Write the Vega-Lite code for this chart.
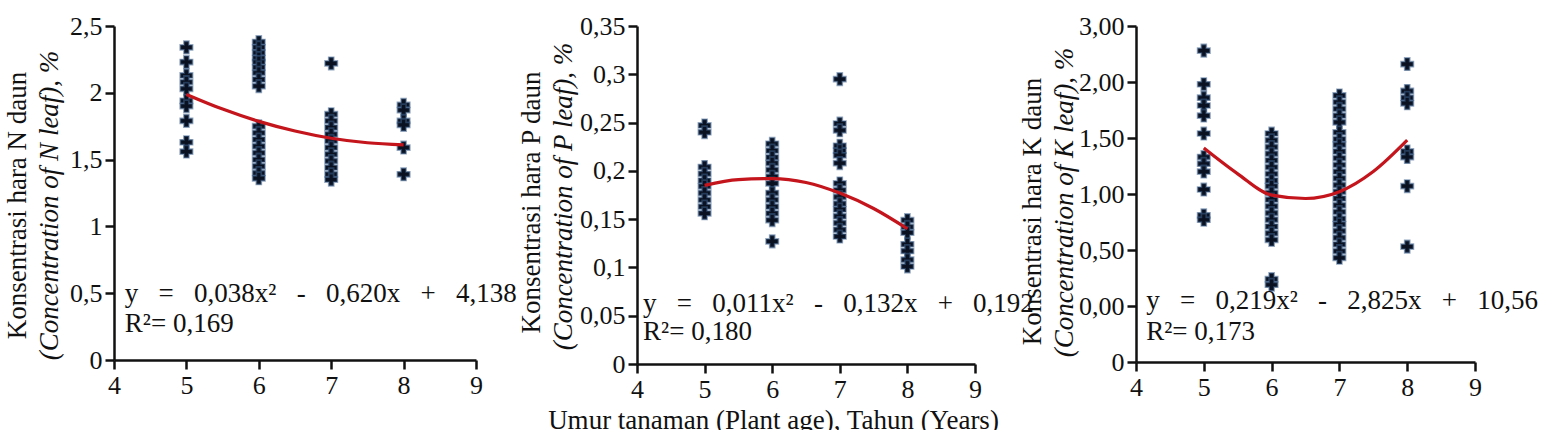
{
  "$schema": "https://vega.github.io/schema/vega-lite/v6.json",
  "padding": {"left": 3, "top": 13, "right": 0, "bottom": 0},
  "background": "white",
  "bounds": "flush",
  "spacing": 161,
  "datasets": {
    "N": [
      {"age":5,"v":2.34},{"age":5,"v":2.23},{"age":5,"v":2.13},{"age":5,"v":2.08},{"age":5,"v":2.03},{"age":5,"v":1.94},{"age":5,"v":1.90},{"age":5,"v":1.79},{"age":5,"v":1.63},{"age":5,"v":1.56},
      {"age":6,"v":2.38},{"age":6,"v":2.34},{"age":6,"v":2.30},{"age":6,"v":2.26},{"age":6,"v":2.23},{"age":6,"v":2.19},{"age":6,"v":2.15},{"age":6,"v":2.10},{"age":6,"v":2.05},{"age":6,"v":1.75},{"age":6,"v":1.70},{"age":6,"v":1.65},{"age":6,"v":1.60},{"age":6,"v":1.55},{"age":6,"v":1.50},{"age":6,"v":1.45},{"age":6,"v":1.40},{"age":6,"v":1.36},
      {"age":7,"v":2.22},{"age":7,"v":1.84},{"age":7,"v":1.79},{"age":7,"v":1.74},{"age":7,"v":1.69},{"age":7,"v":1.64},{"age":7,"v":1.59},{"age":7,"v":1.54},{"age":7,"v":1.49},{"age":7,"v":1.44},{"age":7,"v":1.39},{"age":7,"v":1.35},
      {"age":8,"v":1.91},{"age":8,"v":1.87},{"age":8,"v":1.79},{"age":8,"v":1.76},{"age":8,"v":1.59},{"age":8,"v":1.39}
    ],
    "Nfit": [
      {"age":5,"fit":1.988},{"age":5.5,"fit":1.878},{"age":6,"fit":1.786},{"age":6.5,"fit":1.714},{"age":7,"fit":1.660},{"age":7.5,"fit":1.626},{"age":8,"fit":1.610}
    ],
    "P": [
      {"age":5,"v":0.247},{"age":5,"v":0.240},{"age":5,"v":0.204},{"age":5,"v":0.197},{"age":5,"v":0.190},{"age":5,"v":0.184},{"age":5,"v":0.177},{"age":5,"v":0.170},{"age":5,"v":0.163},{"age":5,"v":0.156},
      {"age":6,"v":0.228},{"age":6,"v":0.221},{"age":6,"v":0.214},{"age":6,"v":0.208},{"age":6,"v":0.201},{"age":6,"v":0.194},{"age":6,"v":0.187},{"age":6,"v":0.177},{"age":6,"v":0.170},{"age":6,"v":0.163},{"age":6,"v":0.156},{"age":6,"v":0.149},{"age":6,"v":0.127},
      {"age":7,"v":0.295},{"age":7,"v":0.249},{"age":7,"v":0.242},{"age":7,"v":0.226},{"age":7,"v":0.221},{"age":7,"v":0.216},{"age":7,"v":0.208},{"age":7,"v":0.187},{"age":7,"v":0.180},{"age":7,"v":0.173},{"age":7,"v":0.166},{"age":7,"v":0.160},{"age":7,"v":0.153},{"age":7,"v":0.146},{"age":7,"v":0.139},{"age":7,"v":0.132},
      {"age":8,"v":0.149},{"age":8,"v":0.142},{"age":8,"v":0.136},{"age":8,"v":0.124},{"age":8,"v":0.117},{"age":8,"v":0.108},{"age":8,"v":0.101}
    ],
    "Pfit": [
      {"age":5,"fit":0.185},{"age":5.5,"fit":0.191},{"age":6,"fit":0.192},{"age":6.5,"fit":0.188},{"age":7,"fit":0.177},{"age":7.5,"fit":0.161},{"age":8,"fit":0.140}
    ],
    "K": [
      {"age":5,"v":2.28},{"age":5,"v":1.98},{"age":5,"v":1.86},{"age":5,"v":1.79},{"age":5,"v":1.70},{"age":5,"v":1.54},{"age":5,"v":1.33},{"age":5,"v":1.27},{"age":5,"v":1.20},{"age":5,"v":1.04},{"age":5,"v":0.81},{"age":5,"v":0.77},
      {"age":6,"v":1.54},{"age":6,"v":1.48},{"age":6,"v":1.42},{"age":6,"v":1.36},{"age":6,"v":1.30},{"age":6,"v":1.24},{"age":6,"v":1.18},{"age":6,"v":1.12},{"age":6,"v":1.07},{"age":6,"v":1.01},{"age":6,"v":0.95},{"age":6,"v":0.89},{"age":6,"v":0.83},{"age":6,"v":0.77},{"age":6,"v":0.71},{"age":6,"v":0.65},{"age":6,"v":0.59},{"age":6,"v":0.24},{"age":6,"v":0.19},
      {"age":7,"v":1.88},{"age":7,"v":1.82},{"age":7,"v":1.76},{"age":7,"v":1.70},{"age":7,"v":1.64},{"age":7,"v":1.55},{"age":7,"v":1.49},{"age":7,"v":1.44},{"age":7,"v":1.38},{"age":7,"v":1.32},{"age":7,"v":1.26},{"age":7,"v":1.20},{"age":7,"v":1.14},{"age":7,"v":1.08},{"age":7,"v":1.02},{"age":7,"v":0.96},{"age":7,"v":0.90},{"age":7,"v":0.84},{"age":7,"v":0.78},{"age":7,"v":0.73},{"age":7,"v":0.67},{"age":7,"v":0.61},{"age":7,"v":0.55},{"age":7,"v":0.49},{"age":7,"v":0.43},
      {"age":8,"v":2.16},{"age":8,"v":1.92},{"age":8,"v":1.86},{"age":8,"v":1.81},{"age":8,"v":1.38},{"age":8,"v":1.33},{"age":8,"v":1.07},{"age":8,"v":0.53}
    ],
    "Kfit": [
      {"age":5,"fit":1.41},{"age":5.5,"fit":1.18},{"age":6,"fit":0.99},{"age":6.5,"fit":0.96},{"age":7,"fit":1.02},{"age":7.5,"fit":1.20},{"age":8,"fit":1.48}
    ]
  },
  "hconcat": [
    {
      "width": 362, "height": 334,
      "resolve": {"axis": {"y": "independent"}},
      "layer": [
        {
          "data": {"name": "N"},
          "mark": {"type": "point", "shape": "cross", "filled": true, "size": 150, "color": "#0a1120", "stroke": "#3d5f8a", "strokeWidth": 1.8, "strokeOpacity": 0.55, "opacity": 1},
          "encoding": {
            "x": {"field": "age", "type": "quantitative", "scale": {"domain": [4, 9], "nice": false, "zero": false}, "axis": {"values": [4,5,6,7,8,9], "title": null}},
            "y": {"field": "v", "type": "quantitative", "scale": {"domain": [0, 2.5], "nice": false}, "axis": {"values": [0,0.5,1,1.5,2,2.5], "labelExpr": "replace(toString(datum.value), '.', ',')", "title": "(Concentration of N leaf), %", "titleFontStyle": "italic", "titleX": -65, "titleY": 179, "titleAngle": -90, "titleBaseline": "middle", "titleAlign": "center"}}
          }
        },
        {
          "data": {"name": "Nfit"},
          "mark": {"type": "line", "color": "#c4141c", "strokeWidth": 3.2, "interpolate": "monotone"},
          "encoding": {
            "x": {"field": "age", "type": "quantitative", "axis": {"values": [4,5,6,7,8,9], "title": null}},
            "y": {"field": "fit", "type": "quantitative", "axis": {"orient": "left", "labels": false, "ticks": false, "domain": false, "title": "Konsentrasi hara N daun", "titleX": -97, "titleY": 179, "titleAngle": -90, "titleBaseline": "middle", "titleAlign": "center"}}
          }
        },
        {
          "data": {"values": [{}]},
          "mark": {"type": "text", "align": "left", "baseline": "middle", "fontSize": 27, "font": "Liberation Serif", "color": "#111"},
          "encoding": {
            "x": {"datum": 4.15, "type": "quantitative", "axis": {"values": [4,5,6,7,8,9], "title": null}},
            "y": {"datum": 0.497, "type": "quantitative", "axis": null},
            "text": {"value": "y\u00a0\u00a0\u00a0=\u00a0\u00a0\u00a00,038x²\u00a0\u00a0\u00a0-\u00a0\u00a0\u00a00,620x\u00a0\u00a0\u00a0+\u00a0\u00a0\u00a04,138"}
          }
        },
        {
          "data": {"values": [{}]},
          "mark": {"type": "text", "align": "left", "baseline": "middle", "fontSize": 27, "font": "Liberation Serif", "color": "#111"},
          "encoding": {
            "x": {"datum": 4.15, "type": "quantitative", "axis": {"values": [4,5,6,7,8,9], "title": null}},
            "y": {"datum": 0.27, "type": "quantitative", "axis": null},
            "text": {"value": "R²= 0,169"}
          }
        }
      ]
    },
    {
      "width": 338, "height": 338,
      "resolve": {"axis": {"y": "independent"}},
      "layer": [
        {
          "data": {"name": "P"},
          "mark": {"type": "point", "shape": "cross", "filled": true, "size": 150, "color": "#0a1120", "stroke": "#3d5f8a", "strokeWidth": 1.8, "strokeOpacity": 0.55, "opacity": 1},
          "encoding": {
            "x": {"field": "age", "type": "quantitative", "scale": {"domain": [4, 9], "nice": false, "zero": false}, "axis": {"values": [4,5,6,7,8,9], "title": "Umur tanaman (Plant age), Tahun (Years)", "titleX": 136, "titleY": 64, "titleBaseline": "alphabetic", "titleAlign": "center"}},
            "y": {"field": "v", "type": "quantitative", "scale": {"domain": [0, 0.35], "nice": false}, "axis": {"values": [0,0.05,0.1,0.15,0.2,0.25,0.3,0.35], "labelExpr": "replace(toString(datum.value), '.', ',')", "title": "(Concentration of P leaf), %", "titleFontStyle": "italic", "titleX": -74, "titleY": 170, "titleAngle": -90, "titleBaseline": "middle", "titleAlign": "center"}}
          }
        },
        {
          "data": {"name": "Pfit"},
          "mark": {"type": "line", "color": "#c4141c", "strokeWidth": 3.2, "interpolate": "monotone"},
          "encoding": {
            "x": {"field": "age", "type": "quantitative", "axis": {"values": [4,5,6,7,8,9], "title": "Umur tanaman (Plant age), Tahun (Years)", "titleX": 136, "titleY": 64, "titleBaseline": "alphabetic", "titleAlign": "center"}},
            "y": {"field": "fit", "type": "quantitative", "axis": {"orient": "left", "labels": false, "ticks": false, "domain": false, "title": "Konsentrasi hara P daun", "titleX": -106, "titleY": 176, "titleAngle": -90, "titleBaseline": "middle", "titleAlign": "center"}}
          }
        },
        {
          "data": {"values": [{}]},
          "mark": {"type": "text", "align": "left", "baseline": "middle", "fontSize": 27, "font": "Liberation Serif", "color": "#111"},
          "encoding": {
            "x": {"datum": 4.09, "type": "quantitative", "axis": {"values": [4,5,6,7,8,9], "title": "Umur tanaman (Plant age), Tahun (Years)", "titleX": 136, "titleY": 64, "titleBaseline": "alphabetic", "titleAlign": "center"}},
            "y": {"datum": 0.062, "type": "quantitative", "axis": null},
            "text": {"value": "y\u00a0\u00a0\u00a0=\u00a0\u00a0\u00a00,011x²\u00a0\u00a0\u00a0-\u00a0\u00a0\u00a00,132x\u00a0\u00a0\u00a0+\u00a0\u00a0\u00a00,192"}
          }
        },
        {
          "data": {"values": [{}]},
          "mark": {"type": "text", "align": "left", "baseline": "middle", "fontSize": 27, "font": "Liberation Serif", "color": "#111"},
          "encoding": {
            "x": {"datum": 4.09, "type": "quantitative", "axis": {"values": [4,5,6,7,8,9], "title": "Umur tanaman (Plant age), Tahun (Years)", "titleX": 136, "titleY": 64, "titleBaseline": "alphabetic", "titleAlign": "center"}},
            "y": {"datum": 0.033, "type": "quantitative", "axis": null},
            "text": {"value": "R²= 0,180"}
          }
        }
      ]
    },
    {
      "width": 339, "height": 336,
      "resolve": {"axis": {"y": "independent"}},
      "layer": [
        {
          "data": {"name": "K"},
          "mark": {"type": "point", "shape": "cross", "filled": true, "size": 150, "color": "#0a1120", "stroke": "#3d5f8a", "strokeWidth": 1.8, "strokeOpacity": 0.55, "opacity": 1},
          "encoding": {
            "x": {"field": "age", "type": "quantitative", "scale": {"domain": [4, 9], "nice": false, "zero": false}, "axis": {"values": [4,5,6,7,8,9], "title": null}},
            "y": {"field": "v", "type": "quantitative", "scale": {"domain": [-0.5, 2.5], "nice": false, "zero": false}, "axis": {"values": [-0.5,0,0.5,1,1.5,2,2.5], "labelExpr": "datum.value < -0.4 ? '0' : datum.value > 2.4 ? '3,00' : replace(format(datum.value, '.2f'), '.', ',')", "title": "(Concentration of K leaf), %", "titleFontStyle": "italic", "titleX": -72, "titleY": 176, "titleAngle": -90, "titleBaseline": "middle", "titleAlign": "center"}}
          }
        },
        {
          "data": {"name": "Kfit"},
          "mark": {"type": "line", "color": "#c4141c", "strokeWidth": 3.2, "interpolate": "monotone"},
          "encoding": {
            "x": {"field": "age", "type": "quantitative", "axis": {"values": [4,5,6,7,8,9], "title": null}},
            "y": {"field": "fit", "type": "quantitative", "axis": {"orient": "left", "labels": false, "ticks": false, "domain": false, "title": "Konsentrasi hara K daun", "titleX": -104, "titleY": 185, "titleAngle": -90, "titleBaseline": "middle", "titleAlign": "center"}}
          }
        },
        {
          "data": {"values": [{}]},
          "mark": {"type": "text", "align": "left", "baseline": "middle", "fontSize": 27, "font": "Liberation Serif", "color": "#111"},
          "encoding": {
            "x": {"datum": 4.15, "type": "quantitative", "axis": {"values": [4,5,6,7,8,9], "title": null}},
            "y": {"datum": 0.042, "type": "quantitative", "axis": null},
            "text": {"value": "y\u00a0\u00a0\u00a0=\u00a0\u00a0\u00a00,219x²\u00a0\u00a0\u00a0-\u00a0\u00a0\u00a02,825x\u00a0\u00a0\u00a0+\u00a0\u00a0\u00a010,56"}
          }
        },
        {
          "data": {"values": [{}]},
          "mark": {"type": "text", "align": "left", "baseline": "middle", "fontSize": 27, "font": "Liberation Serif", "color": "#111"},
          "encoding": {
            "x": {"datum": 4.15, "type": "quantitative", "axis": {"values": [4,5,6,7,8,9], "title": null}},
            "y": {"datum": -0.233, "type": "quantitative", "axis": null},
            "text": {"value": "R²= 0,173"}
          }
        }
      ]
    }
  ],
  "config": {
    "view": {"stroke": null},
    "font": "Liberation Serif",
    "axis": {
      "labelFont": "Liberation Serif", "titleFont": "Liberation Serif",
      "labelFontSize": 26, "titleFontSize": 27,
      "labelColor": "#111", "titleColor": "#111",
      "domainColor": "#111", "tickColor": "#111",
      "domainWidth": 2.5, "tickWidth": 2.5, "tickSize": 9,
      "grid": false, "titleFontWeight": "normal", "labelPadding": 3,
      "labelFlush": false, "labelOverlap": false
    }
  }
}
